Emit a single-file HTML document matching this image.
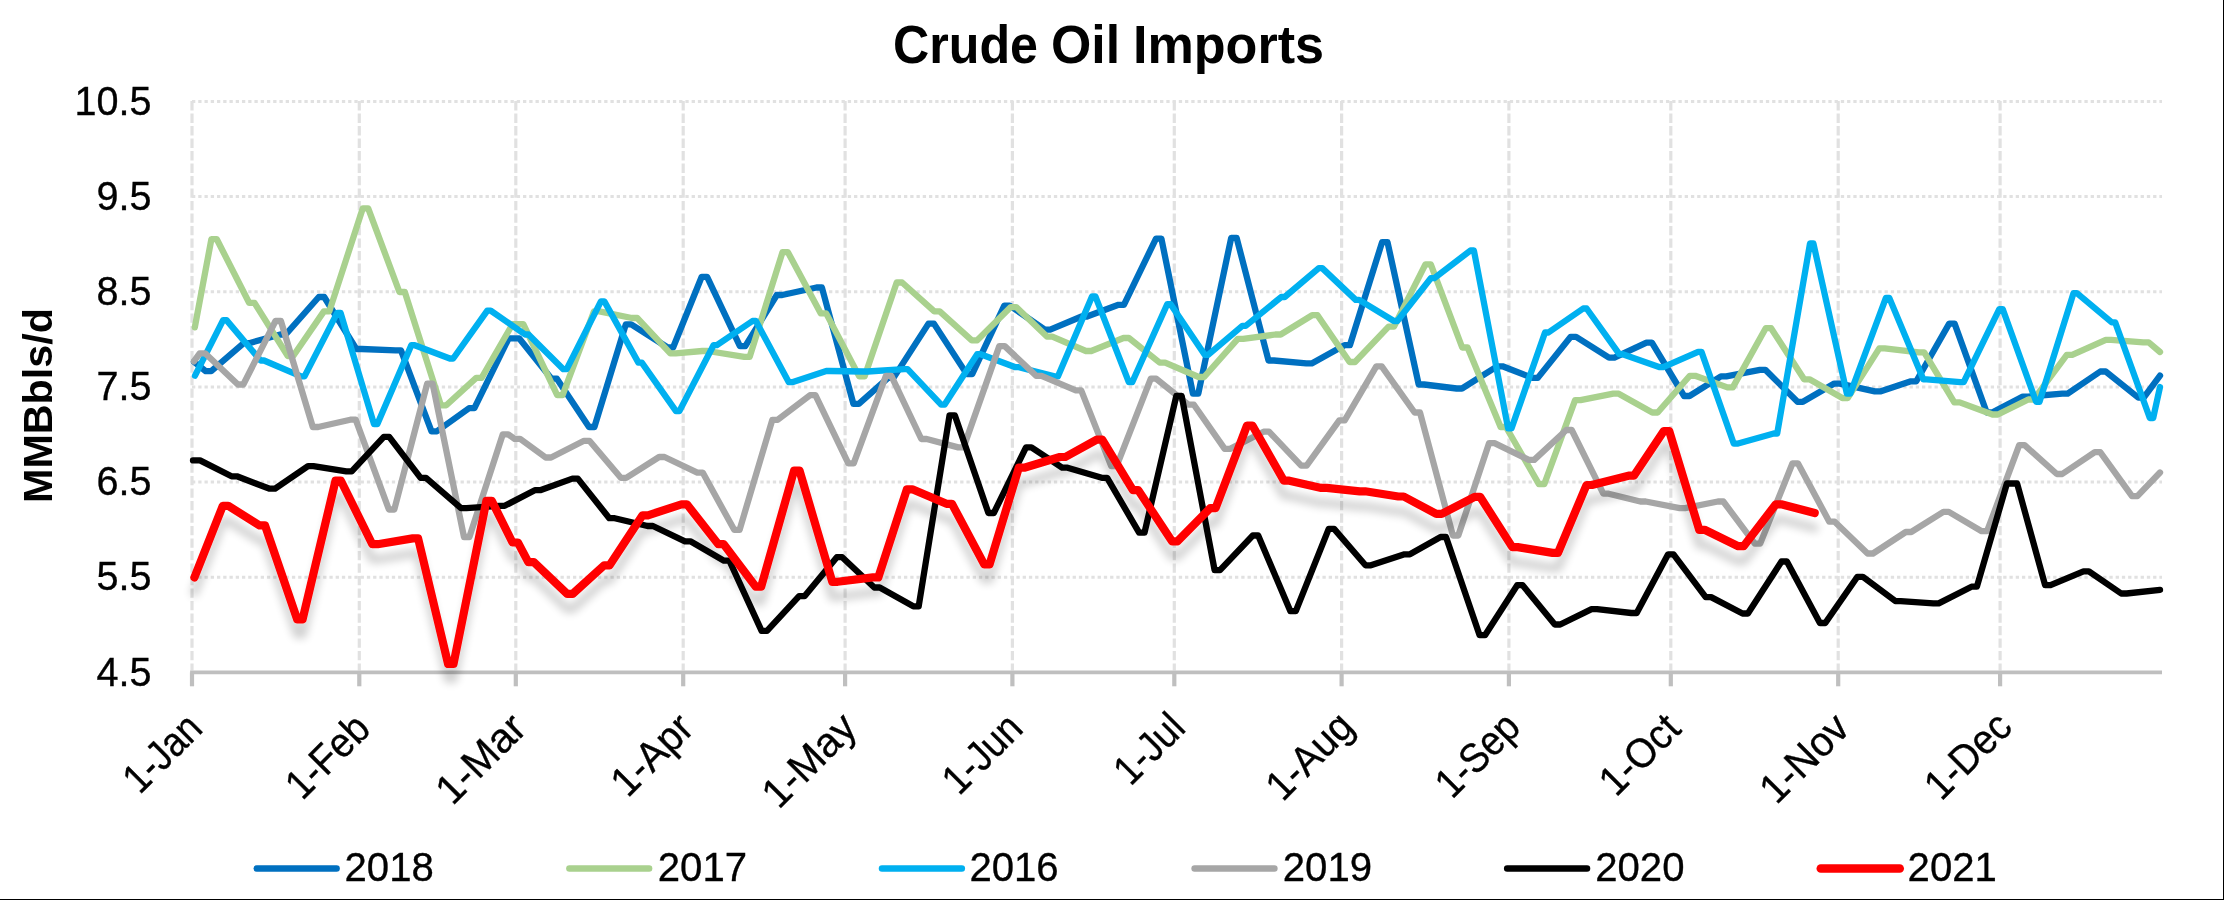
<!DOCTYPE html>
<html><head><meta charset="utf-8"><title>Crude Oil Imports</title>
<style>
html,body{margin:0;padding:0;background:#fff;}
body{width:2224px;height:900px;overflow:hidden;font-family:"Liberation Sans",sans-serif;}
svg{display:block;}
</style></head><body>
<svg width="2224" height="900" viewBox="0 0 2224 900">
<defs><filter id="sh" x="-5%" y="-20%" width="110%" height="150%"><feGaussianBlur in="SourceAlpha" stdDeviation="4.5"/><feOffset dx="0" dy="14.5" result="o"/><feComponentTransfer><feFuncA type="linear" slope="0.19"/></feComponentTransfer><feMerge><feMergeNode/><feMergeNode in="SourceGraphic"/></feMerge></filter></defs>
<rect x="0" y="0" width="2224" height="900" fill="#fff"/>
<g stroke="#E1E1E1" fill="none">
<line x1="192.0" y1="101.4" x2="2162.0" y2="101.4" stroke-width="3" stroke-dasharray="3.3 2.9456"/>
<line x1="192.0" y1="196.6" x2="2162.0" y2="196.6" stroke-width="3" stroke-dasharray="3.3 2.9456"/>
<line x1="192.0" y1="291.7" x2="2162.0" y2="291.7" stroke-width="3" stroke-dasharray="3.3 2.9456"/>
<line x1="192.0" y1="386.9" x2="2162.0" y2="386.9" stroke-width="3" stroke-dasharray="3.3 2.9456"/>
<line x1="192.0" y1="482.1" x2="2162.0" y2="482.1" stroke-width="3" stroke-dasharray="3.3 2.9456"/>
<line x1="192.0" y1="577.2" x2="2162.0" y2="577.2" stroke-width="3" stroke-dasharray="3.3 2.9456"/>
<line x1="192.0" y1="101.1" x2="192.0" y2="670.6" stroke-width="3.2" stroke-dasharray="9.3 3.195"/>
<line x1="359.3" y1="101.1" x2="359.3" y2="670.6" stroke-width="3.2" stroke-dasharray="9.3 3.195"/>
<line x1="515.8" y1="101.1" x2="515.8" y2="670.6" stroke-width="3.2" stroke-dasharray="9.3 3.195"/>
<line x1="683.2" y1="101.1" x2="683.2" y2="670.6" stroke-width="3.2" stroke-dasharray="9.3 3.195"/>
<line x1="845.1" y1="101.1" x2="845.1" y2="670.6" stroke-width="3.2" stroke-dasharray="9.3 3.195"/>
<line x1="1012.4" y1="101.1" x2="1012.4" y2="670.6" stroke-width="3.2" stroke-dasharray="9.3 3.195"/>
<line x1="1174.3" y1="101.1" x2="1174.3" y2="670.6" stroke-width="3.2" stroke-dasharray="9.3 3.195"/>
<line x1="1341.6" y1="101.1" x2="1341.6" y2="670.6" stroke-width="3.2" stroke-dasharray="9.3 3.195"/>
<line x1="1508.9" y1="101.1" x2="1508.9" y2="670.6" stroke-width="3.2" stroke-dasharray="9.3 3.195"/>
<line x1="1670.8" y1="101.1" x2="1670.8" y2="670.6" stroke-width="3.2" stroke-dasharray="9.3 3.195"/>
<line x1="1838.2" y1="101.1" x2="1838.2" y2="670.6" stroke-width="3.2" stroke-dasharray="9.3 3.195"/>
<line x1="2000.1" y1="101.1" x2="2000.1" y2="670.6" stroke-width="3.2" stroke-dasharray="9.3 3.195"/>
</g>
<g stroke="#BFBFBF" fill="none">
<line x1="190.1" y1="672.4" x2="2162.0" y2="672.4" stroke-width="3.7"/>
<line x1="192.0" y1="672.4" x2="192.0" y2="686.3" stroke-width="4.2"/>
<line x1="359.3" y1="672.4" x2="359.3" y2="686.3" stroke-width="4.2"/>
<line x1="515.8" y1="672.4" x2="515.8" y2="686.3" stroke-width="4.2"/>
<line x1="683.2" y1="672.4" x2="683.2" y2="686.3" stroke-width="4.2"/>
<line x1="845.1" y1="672.4" x2="845.1" y2="686.3" stroke-width="4.2"/>
<line x1="1012.4" y1="672.4" x2="1012.4" y2="686.3" stroke-width="4.2"/>
<line x1="1174.3" y1="672.4" x2="1174.3" y2="686.3" stroke-width="4.2"/>
<line x1="1341.6" y1="672.4" x2="1341.6" y2="686.3" stroke-width="4.2"/>
<line x1="1508.9" y1="672.4" x2="1508.9" y2="686.3" stroke-width="4.2"/>
<line x1="1670.8" y1="672.4" x2="1670.8" y2="686.3" stroke-width="4.2"/>
<line x1="1838.2" y1="672.4" x2="1838.2" y2="686.3" stroke-width="4.2"/>
<line x1="2000.1" y1="672.4" x2="2000.1" y2="686.3" stroke-width="4.2"/>
</g>
<g fill="none" stroke-linejoin="round" stroke-linecap="round">
<polyline points="194.0,361.8 205.8,371.2 211.2,371.2 243.7,343.2 249.1,343.2 280.3,334.5 285.7,334.5 318.8,297.0 324.2,297.0 356.3,349.0 361.7,349.0 395.6,350.4 401.0,350.4 431.5,431.3 436.9,431.3 469.0,408.2 474.4,408.2 508.7,338.3 514.1,338.3 513.7,338.3 519.1,338.3 551.5,378.7 556.9,378.7 589.0,427.0 594.4,427.0 625.8,324.4 631.2,324.4 667.7,347.5 673.1,347.5 701.7,276.8 707.1,276.8 739.9,346.1 745.3,346.1 776.8,295.0 782.2,295.0 816.5,287.5 821.9,287.5 853.4,403.9 858.8,403.9 888.1,377.9 893.5,377.9 928.5,323.6 933.9,323.6 966.8,374.1 972.2,374.1 1004.3,305.6 1009.7,305.6 1044.8,329.6 1050.2,329.6 1081.6,316.5 1087.0,316.5 1118.5,304.8 1123.9,304.8 1156.0,238.6 1161.4,238.6 1192.9,393.7 1198.3,393.7 1231.2,237.8 1236.6,237.8 1268.5,360.5 1273.9,360.5 1306.3,363.4 1311.7,363.4 1344.5,345.2 1349.9,345.2 1382.1,242.1 1387.5,242.1 1418.7,384.5 1424.1,384.5 1456.6,388.5 1462.0,388.5 1497.1,366.3 1502.5,366.3 1532.4,377.9 1537.8,377.9 1570.7,336.8 1576.1,336.8 1609.0,357.6 1614.4,357.6 1646.5,342.6 1651.9,342.6 1684.1,396.0 1689.5,396.0 1720.9,376.4 1726.3,376.4 1759.9,369.8 1765.3,369.8 1797.5,401.8 1802.9,401.8 1834.3,383.6 1839.7,383.6 1874.8,391.4 1880.2,391.4 1910.9,381.3 1916.3,381.3 1949.2,323.6 1954.6,323.6 1986.7,412.5 1992.1,412.5 2022.8,396.6 2028.2,396.6 2062.3,393.7 2067.7,393.7 2100.3,371.5 2105.7,371.5 2138.3,397.6 2143.7,397.6 2160.0,375.6" stroke="#0070C0" stroke-width="6.3"/>
<polyline points="194.8,327.3 211.4,239.2 216.8,239.2 249.1,302.8 254.5,302.8 287.8,356.0 293.2,356.0 323.9,311.4 329.3,311.4 362.8,208.3 368.2,208.3 399.4,292.0 404.8,292.0 440.9,405.3 446.3,405.3 476.2,377.9 481.6,377.9 512.5,324.2 517.9,324.2 517.9,324.2 523.3,324.2 557.2,395.2 562.6,395.2 594.0,311.4 599.4,311.4 631.8,318.0 637.2,318.0 670.3,353.3 675.7,353.3 702.3,351.0 707.7,351.0 744.3,356.8 749.7,356.8 782.5,252.2 787.9,252.2 820.8,313.4 826.2,313.4 859.2,376.4 864.6,376.4 896.7,282.5 902.1,282.5 934.3,311.4 939.7,311.4 971.8,340.3 977.2,340.3 1010.8,307.1 1016.2,307.1 1046.9,336.6 1052.3,336.6 1085.9,351.0 1091.3,351.0 1123.5,338.0 1128.9,338.0 1159.7,362.6 1165.1,362.6 1198.7,377.0 1204.1,377.0 1237.8,338.9 1243.2,338.9 1275.3,334.5 1280.7,334.5 1312.1,315.2 1317.5,315.2 1349.6,362.0 1355.0,362.0 1388.6,326.7 1394.0,326.7 1425.4,264.3 1430.8,264.3 1462.2,347.5 1467.6,347.5 1500.6,427.0 1506.0,427.0 1538.9,484.1 1544.3,484.1 1575.1,400.1 1580.5,400.1 1613.3,393.7 1618.7,393.7 1652.3,412.5 1657.7,412.5 1689.8,375.8 1695.2,375.8 1727.4,387.4 1732.8,387.4 1765.7,328.2 1771.1,328.2 1804.1,379.3 1809.5,379.3 1842.3,398.1 1847.7,398.1 1879.3,348.4 1884.7,348.4 1918.8,352.4 1924.2,352.4 1954.3,402.4 1959.7,402.4 1992.5,414.5 1997.9,414.5 2028.3,399.5 2033.7,399.5 2066.8,354.8 2072.2,354.8 2105.8,339.8 2111.2,339.8 2143.3,342.4 2148.7,342.4 2160.0,352.0" stroke="#A9D18E" stroke-width="6.3"/>
<polyline points="195.0,375.6 223.1,320.1 226.5,320.1 260.6,360.5 264.0,360.5 301.1,376.4 304.5,376.4 337.2,312.9 340.6,312.9 374.0,424.1 377.4,424.1 411.3,345.2 414.7,345.2 449.8,358.5 453.2,358.5 487.3,310.6 490.7,310.6 525.1,334.5 528.5,334.5 563.3,369.2 566.7,369.2 600.9,301.3 604.3,301.3 638.4,362.6 641.8,362.6 676.0,411.1 679.4,411.1 713.5,345.2 716.9,345.2 752.5,321.0 755.9,321.0 788.8,382.2 792.2,382.2 826.3,371.0 829.7,371.0 864.3,371.5 867.7,371.5 904.2,369.2 907.6,369.2 941.1,404.7 944.5,404.7 977.2,354.2 980.6,354.2 1015.5,367.2 1018.9,367.2 1054.5,376.4 1057.9,376.4 1092.0,296.4 1095.4,296.4 1128.8,382.2 1132.2,382.2 1167.2,304.2 1170.6,304.2 1204.7,354.8 1208.1,354.8 1242.3,325.9 1245.7,325.9 1281.3,297.0 1284.7,297.0 1318.8,268.1 1322.2,268.1 1355.7,299.9 1359.1,299.9 1393.9,321.0 1397.3,321.0 1430.8,278.2 1434.2,278.2 1470.5,250.5 1473.9,250.5 1508.1,428.4 1511.5,428.4 1545.0,332.5 1548.4,332.5 1583.2,308.5 1586.6,308.5 1619.3,354.2 1622.7,354.2 1659.8,367.2 1663.2,367.2 1698.1,351.9 1701.5,351.9 1733.8,443.7 1737.2,443.7 1773.8,433.5 1777.2,433.5 1810.0,243.5 1813.4,243.5 1846.9,393.7 1850.3,393.7 1885.9,297.9 1889.3,297.9 1923.3,379.3 1926.7,379.3 1960.3,382.2 1963.7,382.2 1999.3,309.1 2002.7,309.1 2036.1,401.8 2039.5,401.8 2073.5,293.1 2076.9,293.1 2111.8,322.4 2115.2,322.4 2149.8,418.0 2153.2,418.0 2160.0,387.0" stroke="#00B0F0" stroke-width="6.3"/>
<polyline points="193.9,361.4 199.7,353.3 205.1,353.3 237.9,384.5 243.3,384.5 275.5,321.0 280.9,321.0 312.8,427.0 318.2,427.0 350.3,419.7 355.7,419.7 388.9,509.5 394.3,509.5 427.2,383.6 432.6,383.6 464.0,537.0 469.4,537.0 502.8,434.3 508.2,434.3 514.6,438.8 520.0,438.8 545.7,457.5 551.1,457.5 584.0,440.8 589.4,440.8 620.8,477.8 626.2,477.8 659.1,457.0 664.5,457.0 697.3,472.6 702.7,472.6 734.2,529.8 739.6,529.8 772.3,419.8 777.7,419.8 810.0,395.2 815.4,395.2 848.3,463.3 853.7,463.3 885.9,375.8 891.3,375.8 921.3,439.0 926.7,439.0 958.2,447.4 963.6,447.4 999.3,346.1 1004.7,346.1 1036.1,375.8 1041.5,375.8 1075.8,390.3 1081.2,390.3 1111.2,466.2 1116.6,466.2 1150.8,378.7 1156.2,378.7 1188.5,404.7 1193.9,404.7 1224.7,448.9 1230.1,448.9 1263.6,431.7 1269.0,431.7 1301.2,465.6 1306.6,465.6 1339.3,420.3 1344.7,420.3 1376.3,366.3 1381.7,366.3 1414.6,412.5 1420.0,412.5 1452.9,535.5 1458.3,535.5 1489.1,443.1 1494.5,443.1 1528.8,459.9 1534.2,459.9 1566.3,430.0 1571.7,430.0 1603.3,493.7 1608.7,493.7 1640.3,501.5 1645.7,501.5 1679.7,508.1 1685.1,508.1 1717.9,501.5 1723.3,501.5 1754.8,543.6 1760.2,543.6 1792.5,463.3 1797.9,463.3 1829.3,521.7 1834.7,521.7 1867.6,553.5 1873.0,553.5 1905.8,532.0 1911.2,532.0 1943.4,511.9 1948.8,511.9 1981.7,531.2 1987.1,531.2 2019.2,445.2 2024.6,445.2 2056.8,474.0 2062.2,474.0 2094.8,452.2 2100.2,452.2 2132.0,496.2 2137.4,496.2 2160.0,472.5" stroke="#A6A6A6" stroke-width="6.3"/>
<polyline points="193.0,460.4 194.6,460.4 200.0,460.4 231.5,476.3 236.9,476.3 269.7,488.7 275.1,488.7 308.0,466.2 313.4,466.2 346.3,471.4 351.7,471.4 383.8,436.8 389.2,436.8 420.6,477.8 426.0,477.8 461.0,508.1 466.4,508.1 499.3,505.8 504.7,505.8 534.8,490.2 540.2,490.2 572.4,478.6 577.8,478.6 609.3,518.2 614.7,518.2 647.5,526.0 652.9,526.0 685.0,541.3 690.4,541.3 724.0,560.7 729.4,560.7 761.6,630.9 767.0,630.9 799.1,596.2 804.5,596.2 836.8,557.2 842.2,557.2 874.3,587.5 879.7,587.5 913.3,606.3 918.7,606.3 949.5,415.4 954.9,415.4 988.4,513.0 993.8,513.0 1026.0,447.4 1031.4,447.4 1062.1,467.7 1067.5,467.7 1101.8,477.8 1107.2,477.8 1139.1,532.7 1144.5,532.7 1176.3,396.0 1181.7,396.0 1214.6,570.2 1220.0,570.2 1252.8,535.5 1258.2,535.5 1290.4,611.2 1295.8,611.2 1328.7,528.9 1334.1,528.9 1365.5,565.3 1370.9,565.3 1404.5,554.3 1409.9,554.3 1440.6,537.0 1446.0,537.0 1479.6,635.2 1485.0,635.2 1517.2,585.2 1522.6,585.2 1554.8,624.5 1560.2,624.5 1591.6,609.2 1597.0,609.2 1631.3,613.0 1636.7,613.0 1668.1,554.3 1673.5,554.3 1705.7,597.1 1711.1,597.1 1742.5,613.5 1747.9,613.5 1781.5,561.5 1786.9,561.5 1819.9,623.0 1825.3,623.0 1857.4,576.8 1862.8,576.8 1895.3,601.1 1900.7,601.1 1933.3,603.4 1938.7,603.4 1971.5,586.7 1976.9,586.7 2006.9,483.5 2012.3,483.5 2011.7,483.5 2017.1,483.5 2045.1,585.2 2050.5,585.2 2083.5,571.3 2088.9,571.3 2121.2,593.5 2126.6,593.5 2160.0,589.8" stroke="#000000" stroke-width="6.3"/>
<polyline points="194.4,577.4 222.8,505.8 228.2,505.8 259.6,525.4 265.0,525.4 297.2,619.3 302.6,619.3 335.5,480.7 340.9,480.7 372.3,544.2 377.7,544.2 412.7,538.4 418.1,538.4 448.1,664.0 453.5,664.0 486.4,500.9 491.8,500.9 512.5,542.5 517.9,542.5 528.3,562.1 533.7,562.1 567.3,593.9 572.7,593.9 604.2,565.3 609.6,565.3 642.5,515.3 647.9,515.3 681.5,504.3 686.9,504.3 718.3,544.2 723.7,544.2 755.8,586.7 761.2,586.7 794.1,470.5 799.5,470.5 832.3,581.8 837.7,581.8 872.9,577.4 878.3,577.4 906.9,489.3 912.3,489.3 946.5,503.8 951.9,503.8 984.2,564.4 989.6,564.4 1018.8,467.7 1024.2,467.7 1059.9,457.0 1065.3,457.0 1096.8,439.6 1102.2,439.6 1132.9,490.2 1138.3,490.2 1172.0,541.3 1177.4,541.3 1210.2,508.1 1215.6,508.1 1247.0,425.5 1252.4,425.5 1283.9,480.7 1289.3,480.7 1321.3,487.9 1326.7,487.9 1359.7,491.3 1365.1,491.3 1398.3,496.5 1403.7,496.5 1436.3,513.9 1441.7,513.9 1474.7,496.8 1480.1,496.8 1512.3,547.1 1517.7,547.1 1552.6,552.9 1558.0,552.9 1586.5,485.0 1591.9,485.0 1628.5,475.7 1633.9,475.7 1663.8,431.0 1669.2,431.0 1699.2,529.8 1704.6,529.8 1738.2,546.2 1743.6,546.2 1775.8,504.3 1781.2,504.3 1814.7,513.0" stroke="#FF0000" stroke-width="8.2" filter="url(#sh)"/>
<line x1="256.8" y1="868.5" x2="336.6" y2="868.5" stroke="#0070C0" stroke-width="6.5"/>
<line x1="569.4" y1="868.5" x2="649.1" y2="868.5" stroke="#A9D18E" stroke-width="6.5"/>
<line x1="882.0" y1="868.5" x2="961.8" y2="868.5" stroke="#00B0F0" stroke-width="6.5"/>
<line x1="1194.6" y1="868.5" x2="1274.4" y2="868.5" stroke="#A6A6A6" stroke-width="6.5"/>
<line x1="1507.2" y1="868.5" x2="1587.0" y2="868.5" stroke="#000000" stroke-width="6.5"/>
<line x1="1820.8" y1="868.5" x2="1899.7" y2="868.5" stroke="#FF0000" stroke-width="8.6"/>
</g>
<g font-family="Liberation Sans, sans-serif" fill="#000" stroke="#000" stroke-width="0.35" opacity="0.999">
<text font-weight="bold" stroke="none" font-size="54" transform="translate(893.00,62.50) scale(0.9300,1)">Crude</text>
<text font-weight="bold" stroke="none" font-size="54" transform="translate(1051.00,62.50) scale(0.9600,1)">Oil</text>
<text font-weight="bold" stroke="none" font-size="54" transform="translate(1133.00,62.50) scale(0.9650,1)">Imports</text>
<text font-size="41.5" text-anchor="end" transform="translate(151.60,114.50) scale(0.9550,1)">10.5</text>
<text font-size="41.5" text-anchor="end" transform="translate(151.60,209.67) scale(0.9550,1)">9.5</text>
<text font-size="41.5" text-anchor="end" transform="translate(151.60,304.83) scale(0.9550,1)">8.5</text>
<text font-size="41.5" text-anchor="end" transform="translate(151.60,400.00) scale(0.9550,1)">7.5</text>
<text font-size="41.5" text-anchor="end" transform="translate(151.60,495.17) scale(0.9550,1)">6.5</text>
<text font-size="41.5" text-anchor="end" transform="translate(151.60,590.33) scale(0.9550,1)">5.5</text>
<text font-size="41.5" text-anchor="end" transform="translate(151.60,685.50) scale(0.9550,1)">4.5</text>
<text font-weight="bold" stroke="none" font-size="40.5" transform="translate(52.00,503.00) rotate(-90) scale(1.0200,1)">MMBbls/d</text>
<text font-size="41.5" text-anchor="end" transform="translate(204.50,730.50) rotate(-45) scale(0.8822,1)">1-Jan</text>
<text font-size="41.5" text-anchor="end" transform="translate(372.32,731.00) rotate(-45) scale(0.9150,1)">1-Feb</text>
<text font-size="41.5" text-anchor="end" transform="translate(528.34,730.50) rotate(-45) scale(0.9909,1)">1-Mar</text>
<text font-size="41.5" text-anchor="end" transform="translate(695.65,730.50) rotate(-45) scale(0.9467,1)">1-Apr</text>
<text font-size="41.5" text-anchor="end" transform="translate(859.07,730.00) rotate(-45) scale(0.9858,1)">1-May</text>
<text font-size="41.5" text-anchor="end" transform="translate(1024.88,730.50) rotate(-45) scale(0.8985,1)">1-Jun</text>
<text font-size="41.5" text-anchor="end" transform="translate(1187.30,730.00) rotate(-45) scale(0.8949,1)">1-Jul</text>
<text font-size="41.5" text-anchor="end" transform="translate(1356.12,729.00) rotate(-45) scale(0.9374,1)">1-Aug</text>
<text font-size="41.5" text-anchor="end" transform="translate(1522.43,729.50) rotate(-45) scale(0.9000,1)">1-Sep</text>
<text font-size="41.5" text-anchor="end" transform="translate(1682.85,731.00) rotate(-45) scale(0.9304,1)">1-Oct</text>
<text font-size="41.5" text-anchor="end" transform="translate(1851.66,730.50) rotate(-45) scale(0.9597,1)">1-Nov</text>
<text font-size="41.5" text-anchor="end" transform="translate(2014.08,729.00) rotate(-45) scale(0.9303,1)">1-Dec</text>
<text font-size="41.5" transform="translate(344.50,880.50) scale(0.9670,1)">2018</text>
<text font-size="41.5" transform="translate(657.80,880.50) scale(0.9670,1)">2017</text>
<text font-size="41.5" transform="translate(969.40,880.50) scale(0.9670,1)">2016</text>
<text font-size="41.5" transform="translate(1282.80,880.50) scale(0.9670,1)">2019</text>
<text font-size="41.5" transform="translate(1595.20,880.50) scale(0.9670,1)">2020</text>
<text font-size="41.5" transform="translate(1907.60,880.50) scale(0.9670,1)">2021</text>
</g>
<rect x="2223" y="0" width="1" height="900" fill="#000"/><rect x="0" y="899" width="2224" height="1" fill="#000"/>
</svg>
</body></html>
